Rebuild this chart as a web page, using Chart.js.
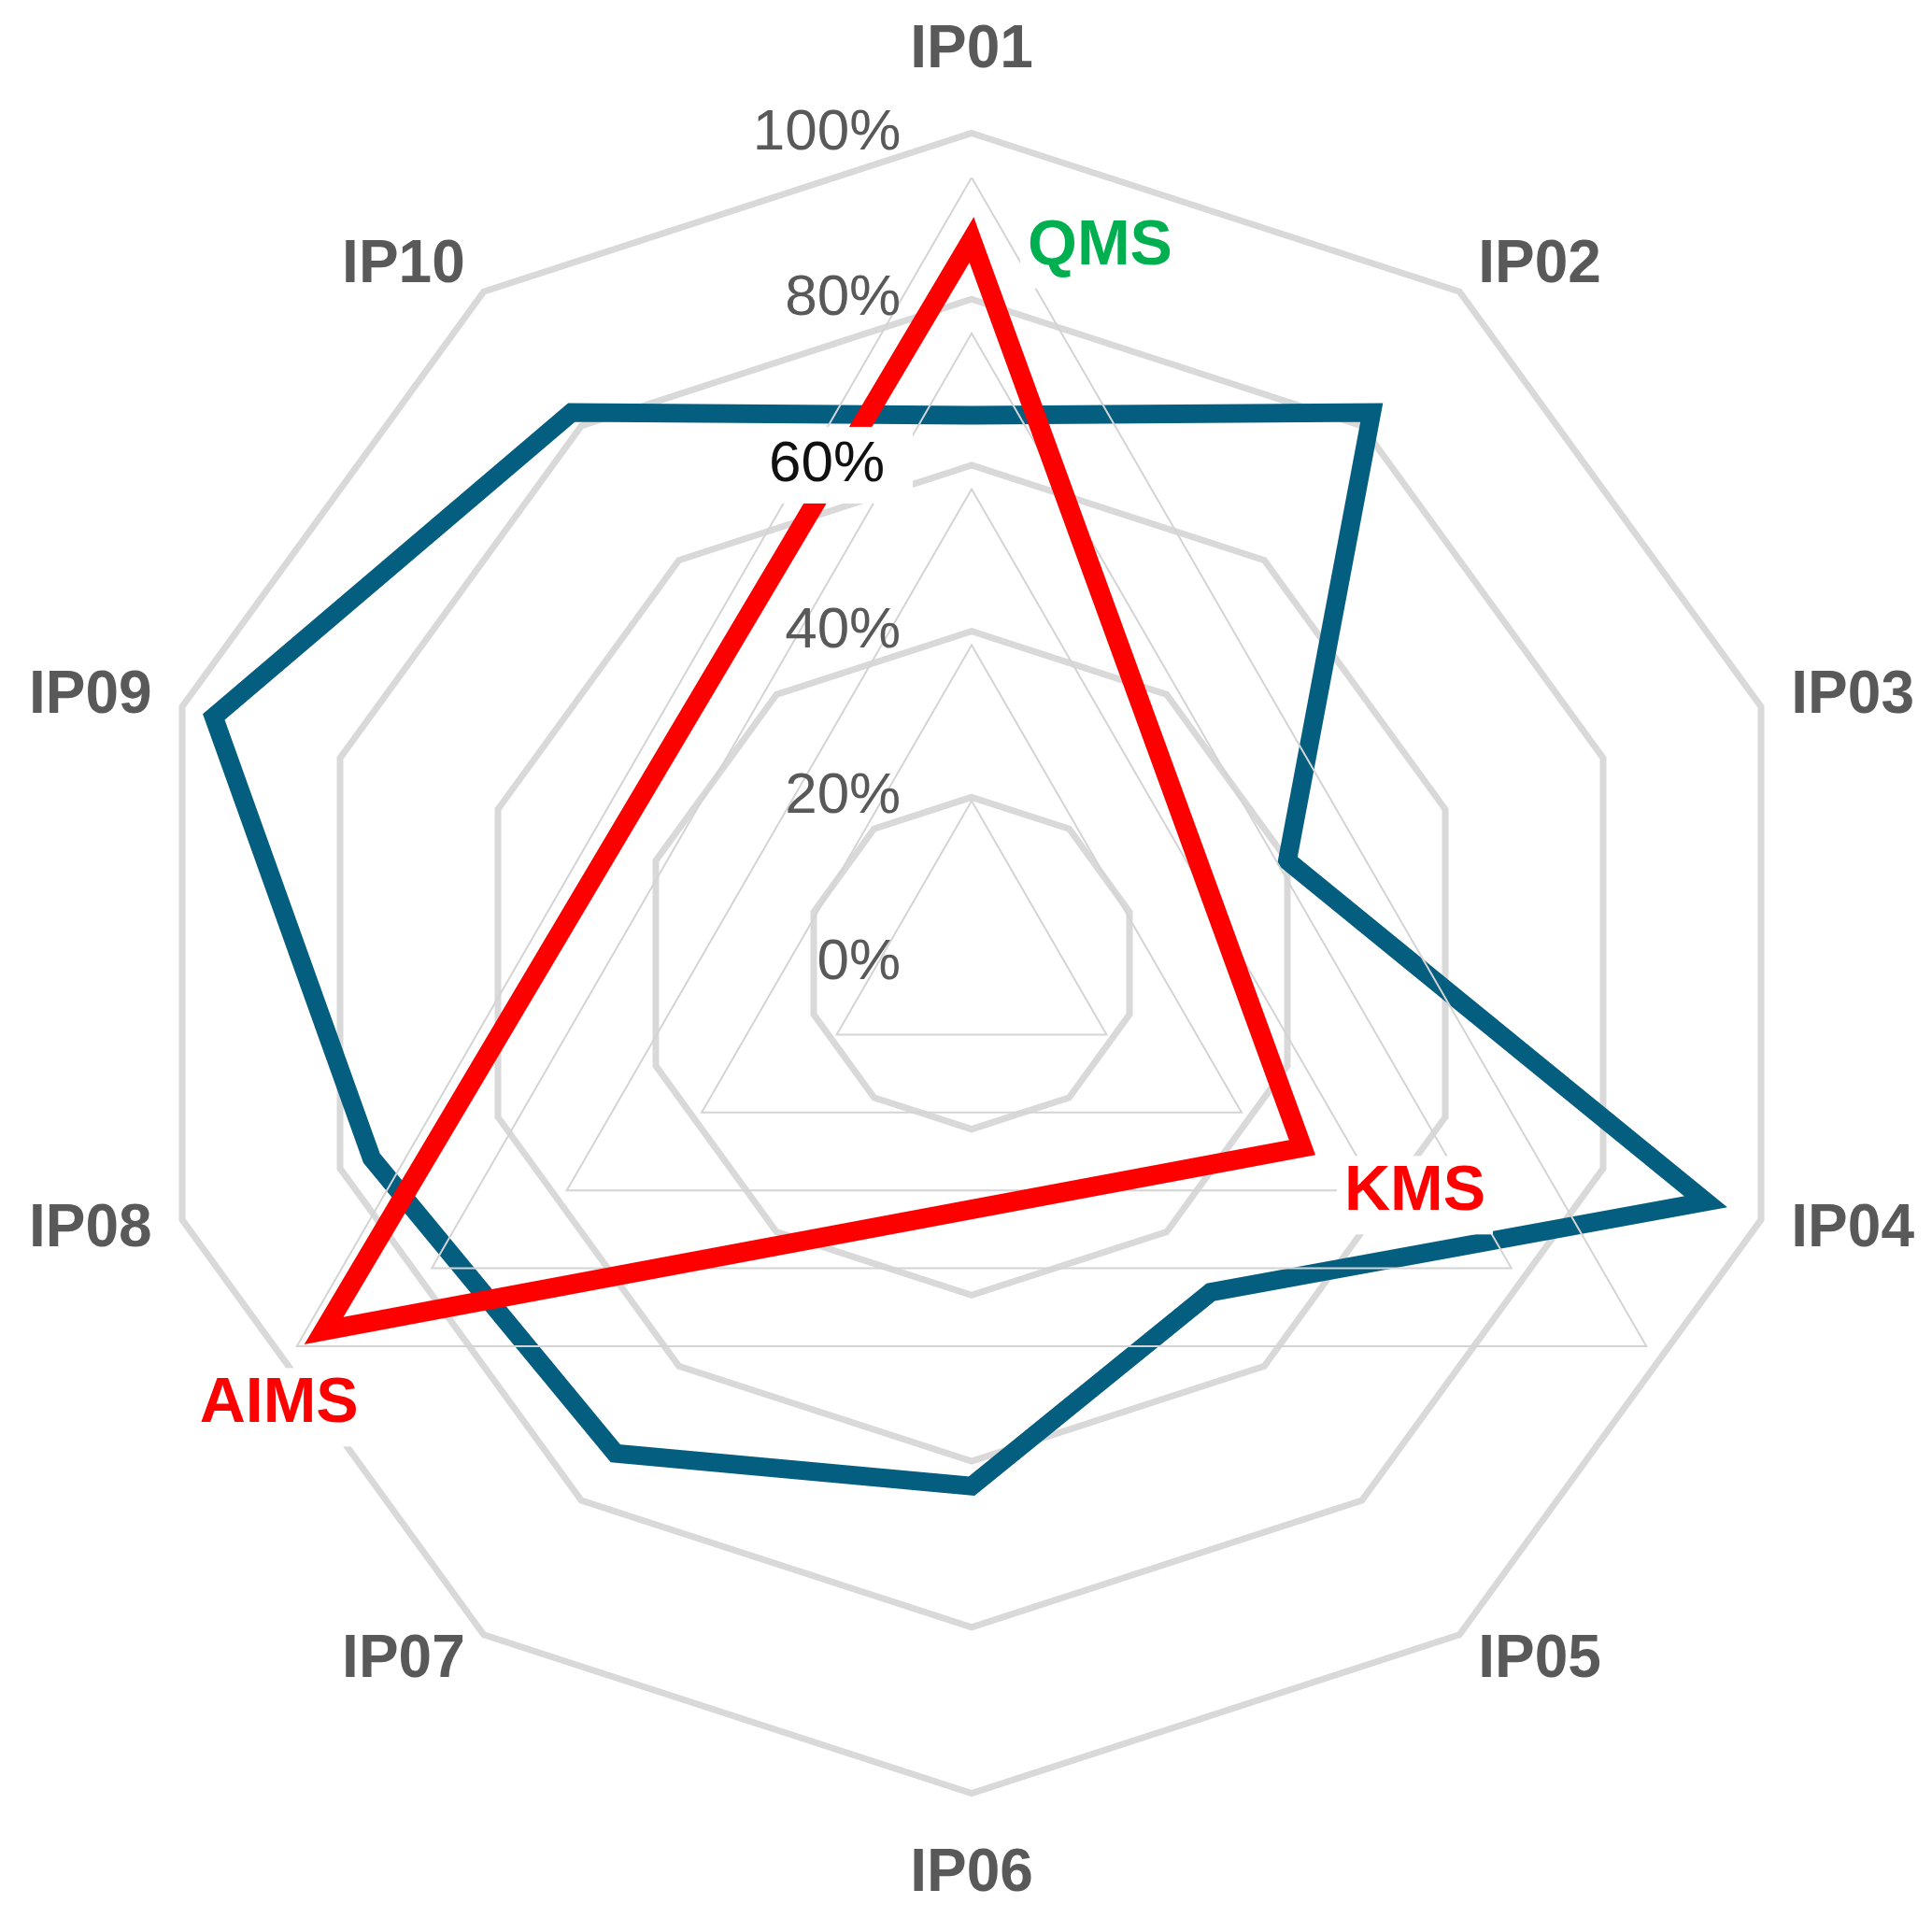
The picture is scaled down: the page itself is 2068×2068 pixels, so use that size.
<!DOCTYPE html>
<html><head><meta charset="utf-8">
<script src="https://cdn.jsdelivr.net/npm/chart.js@4.4.1/dist/chart.umd.min.js"></script>
<style>
html,body{margin:0;padding:0;background:#fff;width:2068px;height:2068px;overflow:hidden;position:relative}
canvas{position:absolute}
#cA,#cC{left:29px;top:-109px}
#cB{left:206px;top:190px}
</style></head><body>
<canvas id="cA" width="2022" height="2280"></canvas>
<canvas id="cB" width="1668" height="1668"></canvas>
<canvas id="cC" width="2022" height="2280"></canvas>
<script>
// ---- data ----
const ipLabels = ['IP01','IP02','IP03','IP04','IP05','IP06','IP07','IP08','IP09','IP10'];
const ipValues = [66, 82, 40, 93, 49, 63, 73, 76, 96, 82];
const sysLabels = ['QMS','KMS','AIMS'];
const sysValues = [92, 49, 96];
const sysLabelColors = ['#00B050','#FF0000','#FF0000'];
const tickStep = 20;
const tickMax = 100;

// ---- styles ----
Chart.defaults.font.family = "'Liberation Sans', Arial, sans-serif";
const BLUE = '#045E80';
const RED = '#FF0000';
const GRID = '#D9D9D9';
const LABEL_GRAY = '#595959';

const tickSpaces = v => (v === 60 ? 18 : 12 + 2 * String(v).length);
const tickText = value => { const v = Math.round(value); return v + '%' + ' '.repeat(tickSpaces(v)); };

function decagonConfig(layer) {
  const base = layer === 'base';
  return {
    type: 'radar',
    data: {
      labels: ipLabels,
      datasets: [{
        data: ipValues,
        borderColor: base ? BLUE : 'rgba(0,0,0,0)',
        borderWidth: 20,
        borderJoinStyle: 'miter',
        pointRadius: 0, pointHoverRadius: 0,
        fill: false
      }]
    },
    options: {
      responsive: false, animation: false, events: [],
      layout: { padding: 0 },
      plugins: { legend: { display: false }, tooltip: { enabled: false } },
      scales: {
        r: {
          min: base ? 0 : -0.001,
          max: tickMax,
          angleLines: { display: false },
          grid: {
            display: base,
            color: GRID,
            lineWidth: 7
          },
          ticks: {
            display: true,
            stepSize: tickStep,
            z: 1,
            font: { size: 62, family: "'Liberation Sans', Arial, sans-serif" },
            color: ctx => base ? 'rgba(0,0,0,0)' : (Math.round(ctx.tick.value) === 60 ? '#111111' : LABEL_GRAY),
            showLabelBackdrop: ctx => !base && Math.round(ctx.tick.value) === 60,
            backdropColor: '#FFFFFF',
            backdropPadding: { top: 10, bottom: 10, left: 8, right: -280 },
            callback: tickText
          },
          pointLabels: {
            display: true,
            color: base ? LABEL_GRAY : 'rgba(0,0,0,0)',
            font: ctx => ({
              family: "'Liberation Sans', Arial, sans-serif",
              size: 64, weight: 'bold',
              lineHeight: (ctx.index === 0 || ctx.index === 5) ? 1.2 : 0.01
            }),
            padding: ctx => ctx.index === 0 ? 8.5 : (ctx.index === 5 ? 7.5 : -7)
          }
        }
      }
    }
  };
}

const sysLabelOffsets = [
  { dx: 60, dy: 26, align: 'left' },
  { dx: 45, dy: 67, align: 'left' },
  { dx: 37, dy: 98, align: 'right' }
];
const SYS_FONT = "bold 68px 'Liberation Sans', Arial, sans-serif";

function labelBox(ctx, text, x, y, align) {
  const m = ctx.measureText(text);
  const w = m.width;
  const left = align === 'right' ? x - w : x;
  return { x: left - 8, y: y - 58, w: w + 16, h: 84 };
}

const sysLabelPlugin = {
  id: 'sysLabels',
  beforeDatasetsDraw(chart) {
    const ctx = chart.ctx;
    const meta = chart.getDatasetMeta(0);
    ctx.save();
    ctx.font = SYS_FONT;
    ctx.fillStyle = '#FFFFFF';
    meta.data.forEach((pt, i) => {
      const o = sysLabelOffsets[i];
      const b = labelBox(ctx, chart.data.labels[i], pt.x + o.dx, pt.y + o.dy, o.align);
      ctx.fillRect(b.x, b.y, b.w, b.h);
    });
    ctx.restore();
  },
  afterDatasetsDraw(chart) {
    const ctx = chart.ctx;
    const meta = chart.getDatasetMeta(0);
    ctx.save();
    ctx.font = SYS_FONT;
    ctx.textBaseline = 'alphabetic';
    meta.data.forEach((pt, i) => {
      const o = sysLabelOffsets[i];
      ctx.textAlign = o.align;
      ctx.fillStyle = sysLabelColors[i];
      ctx.fillText(chart.data.labels[i], pt.x + o.dx, pt.y + o.dy);
    });
    ctx.restore();
  }
};

new Chart(document.getElementById('cA'), decagonConfig('base'));

new Chart(document.getElementById('cB'), {
  type: 'radar',
  data: {
    labels: sysLabels,
    datasets: [{
      data: sysValues,
      borderColor: RED,
      borderWidth: 21,
      borderJoinStyle: 'miter',
      pointRadius: 0, pointHoverRadius: 0,
      fill: false
    }]
  },
  options: {
    responsive: false, animation: false, events: [],
    layout: { padding: 0 },
    plugins: { legend: { display: false }, tooltip: { enabled: false } },
    scales: {
      r: {
        min: 0, max: tickMax,
        angleLines: { display: false },
        grid: { color: '#D4D4D4', lineWidth: 2 },
        ticks: { display: false, stepSize: tickStep },
        pointLabels: { display: false }
      }
    }
  },
  plugins: [sysLabelPlugin]
});

new Chart(document.getElementById('cC'), decagonConfig('ticks'));
</script>
</body></html>
